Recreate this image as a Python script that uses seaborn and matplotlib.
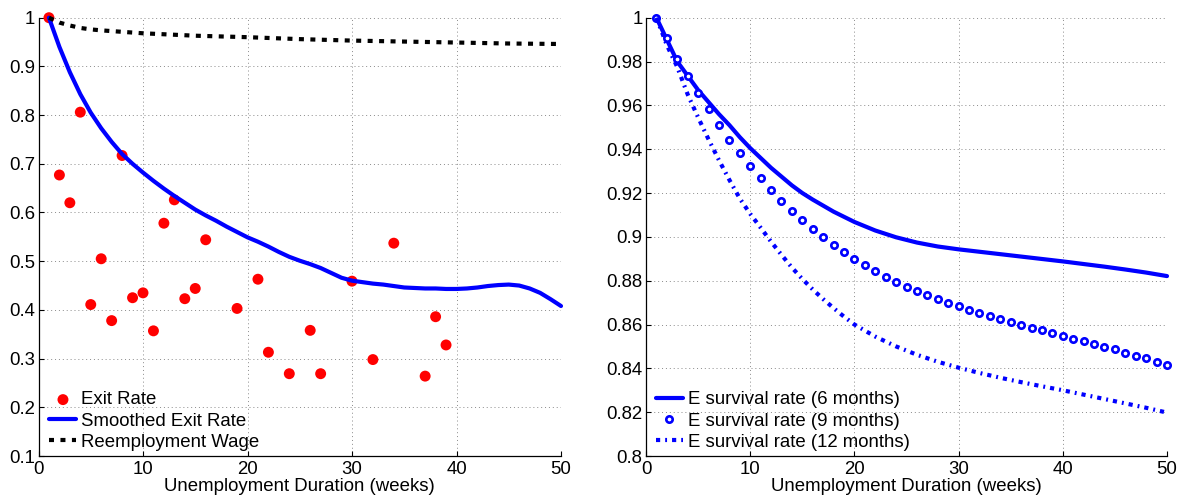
import matplotlib
matplotlib.use("Agg")
import matplotlib.pyplot as plt
import seaborn as sns

# ---------------- data ----------------
exit_weeks = [1, 2, 3, 4, 5, 6, 7, 8, 9, 10, 11, 12, 13, 14, 15, 16, 19, 21, 22,
              24, 26, 27, 30, 32, 34, 37, 38, 39]
exit_rate = [1.0, 0.677, 0.62, 0.806, 0.411, 0.505, 0.378, 0.717, 0.425, 0.435,
             0.357, 0.578, 0.626, 0.423, 0.444, 0.544, 0.403, 0.463, 0.313,
             0.269, 0.358, 0.269, 0.459, 0.298, 0.537, 0.264, 0.386, 0.328]

weeks = list(range(1, 51))
smoothed_exit = [1.0, 0.94, 0.888, 0.843, 0.805, 0.773, 0.745, 0.72, 0.70, 0.682,
                 0.665, 0.649, 0.634, 0.62, 0.606, 0.594, 0.583, 0.571, 0.56, 0.549,
                 0.54, 0.53, 0.519, 0.509, 0.501, 0.494, 0.486, 0.476, 0.466, 0.46,
                 0.457, 0.454, 0.452, 0.449, 0.446, 0.445, 0.444, 0.444, 0.443, 0.443,
                 0.444, 0.446, 0.449, 0.451, 0.452, 0.45, 0.444, 0.435, 0.422, 0.408]

wage_weeks = [1, 2, 3, 4, 5, 6, 8, 10, 12, 15, 20, 25, 30, 35, 40, 45, 50]
reemployment_wage = [1.0, 0.99, 0.984, 0.979, 0.976, 0.974, 0.971, 0.968, 0.966,
                     0.963, 0.96, 0.956, 0.953, 0.951, 0.949, 0.947, 0.946]

surv6_weeks = [1, 2, 3, 4, 5, 6, 7, 8, 9, 10, 11, 12, 13, 14, 15, 16, 18, 20,
               22, 24, 26, 28, 30, 32, 34, 36, 38, 40, 42, 44, 46, 48, 50]
surv6 = [1.0, 0.99, 0.98, 0.9735, 0.967, 0.9615, 0.956, 0.951, 0.9455, 0.9405,
         0.936, 0.9315, 0.9275, 0.9235, 0.92, 0.917, 0.9115, 0.9068,
         0.9029, 0.8998, 0.8974, 0.8956, 0.8943, 0.8932, 0.8921, 0.891, 0.8899,
         0.8888, 0.8876, 0.8864, 0.8851, 0.8837, 0.8821]

surv9 = [1.0, 0.9906, 0.981, 0.9734, 0.9656, 0.9583, 0.951, 0.9443, 0.9382, 0.9325,
         0.9267, 0.9214, 0.9165, 0.912, 0.9077, 0.9036, 0.8998, 0.8963, 0.8929, 0.8897,
         0.8871, 0.8846, 0.8818, 0.8795, 0.8773, 0.8754, 0.8735, 0.8715, 0.87, 0.8684,
         0.8668, 0.8651, 0.8638, 0.8624, 0.861, 0.8599, 0.8586, 0.8575, 0.856, 0.8549,
         0.8535, 0.8525, 0.8511, 0.8499, 0.8486, 0.8471, 0.8457, 0.8445, 0.8428, 0.8413]

surv12_weeks = [1, 2, 3, 4, 5, 6, 7, 8, 9, 10, 11, 12, 13, 14, 15, 16, 17, 18, 19, 20,
                22, 24, 26, 28, 30, 32, 34, 36, 38, 40, 42, 44, 46, 48, 50]
surv12 = [1.0, 0.9875, 0.9775, 0.965, 0.9545, 0.9445, 0.935, 0.926, 0.9175, 0.9105,
          0.9042, 0.8978, 0.8918, 0.886, 0.8808, 0.876, 0.8716, 0.8675, 0.8636, 0.86,
          0.8545, 0.85, 0.8462, 0.843, 0.8403, 0.8379, 0.8357, 0.8337, 0.8318,
          0.83, 0.828, 0.826, 0.824, 0.822, 0.8198]

x_ticks = [0, 10, 20, 30, 40, 50]
x_tick_labels = ["0", "10", "20", "30", "40", "50"]
left_y_ticks = [0.1, 0.2, 0.3, 0.4, 0.5, 0.6, 0.7, 0.8, 0.9, 1.0]
left_y_labels = ["0.1", "0.2", "0.3", "0.4", "0.5", "0.6", "0.7", "0.8", "0.9", "1"]
right_y_ticks = [0.8, 0.82, 0.84, 0.86, 0.88, 0.9, 0.92, 0.94, 0.96, 0.98, 1.0]
right_y_labels = ["0.8", "0.82", "0.84", "0.86", "0.88", "0.9", "0.92", "0.94",
                  "0.96", "0.98", "1"]
x_label = "Unemployment Duration (weeks)"

# ---------------- style ----------------
sns.set_style("white")
plt.rcParams['font.family'] = ['Liberation Sans', 'DejaVu Sans']
plt.rcParams['text.color'] = 'black'
plt.rcParams['axes.labelcolor'] = 'black'
plt.rcParams['xtick.color'] = 'black'
plt.rcParams['ytick.color'] = 'black'
FS = 13.4

W, H = 1178, 498
fig = plt.figure(figsize=(W / 100, H / 100), dpi=100)
ax1 = fig.add_axes([38.5 / W, 42 / H, 522.5 / W, 438.3 / H])
ax2 = fig.add_axes([646 / W, 42 / H, 521 / W, 438.3 / H])


def style(ax, ylim, yticks, ylabels):
    ax.set_xlim(0, 50)
    ax.set_ylim(*ylim)
    ax.set_xticks(x_ticks)
    ax.set_xticklabels(x_tick_labels)
    ax.set_yticks(yticks)
    ax.set_yticklabels(ylabels)
    ax.grid(True, color='#8a8a8a', linestyle=(0, (1, 3)), linewidth=0.7)
    ax.set_axisbelow(True)
    for s in ['top', 'right']:
        ax.spines[s].set_visible(False)
    for s in ['left', 'bottom']:
        ax.spines[s].set_visible(True)
        ax.spines[s].set_color('black')
        ax.spines[s].set_linewidth(0.9)
    ax.tick_params(direction='in', length=3.5, width=0.8, colors='black',
                   labelsize=FS, left=True, bottom=True)
    ax.tick_params(axis='y', pad=2.5)
    ax.tick_params(axis='x', pad=3.5)
    ax.set_xlabel(x_label, fontsize=FS, labelpad=0, color='black')
    ax.set_ylabel('')


# ---------------- left panel ----------------
sns.scatterplot(x=exit_weeks, y=exit_rate, ax=ax1, color=(1, 0, 0), s=62,
                edgecolor='none', linewidth=0, label='Exit Rate', clip_on=False,
                zorder=3, legend=False)
sns.lineplot(x=weeks, y=smoothed_exit, ax=ax1, color=(0, 0, 1), linewidth=3.0,
             label='Smoothed Exit Rate', errorbar=None, sort=False, clip_on=False,
             zorder=4, legend=False)
sns.lineplot(x=wage_weeks, y=reemployment_wage, ax=ax1, color='black', linewidth=3.0,
             linestyle=(0, (1.2, 1.55)), label='Reemployment Wage', errorbar=None,
             sort=False, clip_on=False, zorder=4, legend=False)
style(ax1, (0.1, 1.0), left_y_ticks, left_y_labels)
h1 = [ax1.collections[0], ax1.lines[0], ax1.lines[1]]
ax1.legend(handles=h1, labels=['Exit Rate', 'Smoothed Exit Rate', 'Reemployment Wage'],
           loc='lower left', bbox_to_anchor=(0.021, 0.012), frameon=False,
           fontsize=FS, handlelength=1.45, handletextpad=0.25, labelspacing=0.22,
           borderpad=0, borderaxespad=0, scatterpoints=1, labelcolor='black')

# ---------------- right panel ----------------
sns.lineplot(x=surv6_weeks, y=surv6, ax=ax2, color=(0, 0, 1), linewidth=3.0,
             label='E survival rate (6 months)', errorbar=None, sort=False,
             clip_on=False, zorder=4, legend=False)
sns.lineplot(x=weeks, y=surv9, ax=ax2, color=(0, 0, 1), linestyle='none', marker='o',
             markersize=4.6, markerfacecolor='white', markeredgecolor=(0, 0, 1),
             markeredgewidth=1.9, label='E survival rate (9 months)', errorbar=None,
             sort=False, clip_on=False, zorder=4, legend=False)
sns.lineplot(x=surv12_weeks, y=surv12, ax=ax2, color=(0, 0, 1), linewidth=3.0,
             linestyle=(0, (1.0, 1.2, 0.45, 1.2)), label='E survival rate (12 months)',
             errorbar=None, sort=False, clip_on=False, zorder=4, legend=False)
style(ax2, (0.8, 1.0), right_y_ticks, right_y_labels)
ax2.legend(handles=ax2.lines[:3],
           labels=['E survival rate (6 months)', 'E survival rate (9 months)',
                   'E survival rate (12 months)'],
           loc='lower left', bbox_to_anchor=(0.019, 0.012), frameon=False,
           fontsize=FS, handlelength=1.45, handletextpad=0.25, labelspacing=0.22,
           borderpad=0, borderaxespad=0, numpoints=1, labelcolor='black')

fig.savefig("out.png", dpi=100)
